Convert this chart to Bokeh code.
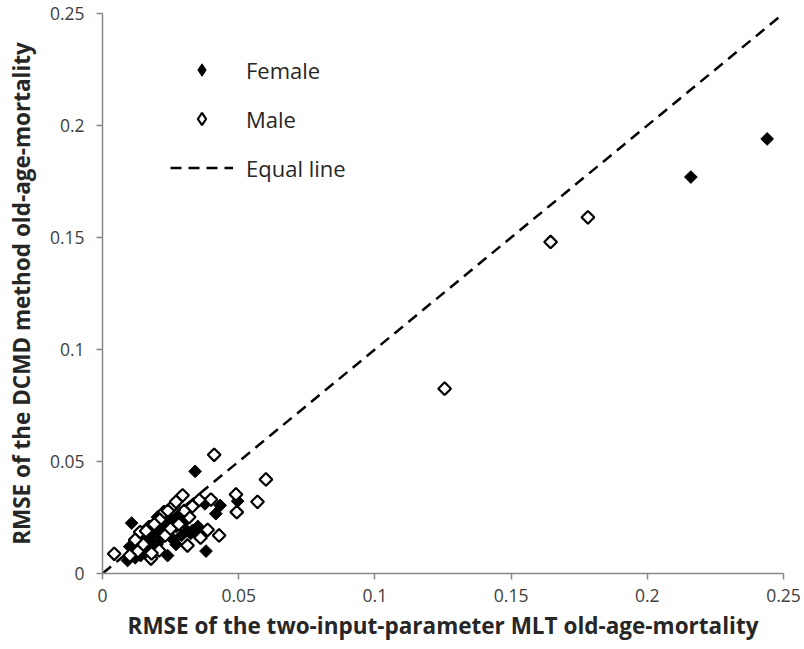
import numpy as np
from bokeh.plotting import figure
from bokeh.models import Legend, LegendItem, FixedTicker, Range1d
from bokeh.embed import file_html
from bokeh.resources import INLINE

# ---- data ----
female_x = [0.244, 0.216, 0.034, 0.0107, 0.038, 0.0432, 0.0496, 0.0376, 0.0416, 0.033,
            0.0324, 0.0202, 0.0239, 0.0092, 0.010, 0.012, 0.013, 0.014, 0.015, 0.016,
            0.017, 0.018, 0.019, 0.020, 0.021, 0.022, 0.023, 0.024, 0.025, 0.026,
            0.027, 0.028, 0.029, 0.030, 0.031, 0.012, 0.011, 0.016, 0.027, 0.035]
female_y = [0.194, 0.177, 0.0456, 0.0225, 0.0100, 0.0304, 0.0323, 0.0311, 0.0267, 0.0192,
            0.0179, 0.0252, 0.008, 0.0058, 0.012, 0.010, 0.014, 0.008, 0.012, 0.016,
            0.011, 0.014, 0.018, 0.013, 0.020, 0.016, 0.022, 0.018, 0.024, 0.015,
            0.021, 0.026, 0.017, 0.023, 0.019, 0.007, 0.0095, 0.009, 0.013, 0.021]

male_x = [0.1782, 0.1645, 0.1256, 0.041, 0.060, 0.049, 0.0569, 0.0493, 0.0398, 0.0355,
          0.0294, 0.0261, 0.0318, 0.0226, 0.0386, 0.0428, 0.0312, 0.036, 0.0178, 0.0138,
          0.0171, 0.0043, 0.0208, 0.024, 0.027, 0.021, 0.019, 0.016, 0.013, 0.010,
          0.015, 0.018, 0.023, 0.025, 0.028, 0.030, 0.033, 0.012]
male_y = [0.159, 0.148, 0.0825, 0.053, 0.042, 0.0353, 0.032, 0.0274, 0.033, 0.0328,
          0.0349, 0.0304, 0.0252, 0.0274, 0.0195, 0.017, 0.0125, 0.016, 0.0067, 0.0185,
          0.0207, 0.0088, 0.0103, 0.028, 0.032, 0.024, 0.022, 0.019, 0.010, 0.008,
          0.013, 0.009, 0.017, 0.020, 0.022, 0.028, 0.030, 0.015]

equal_x = [0.0, 0.25]
equal_y = [0.0, 0.25]

ticks = [0, 0.05, 0.1, 0.15, 0.2, 0.25]
tick_labels = ["0", "0.05", "0.1", "0.15", "0.2", "0.25"]

FONT = "Open Sans"

p = figure(width=804, height=649, output_backend="svg", toolbar_location=None,
           x_range=Range1d(0, 0.25), y_range=Range1d(0, 0.25),
           min_border_left=102, min_border_right=21, min_border_top=13, min_border_bottom=76)
p.outline_line_color = None
p.grid.visible = False
p.background_fill_color = "white"
p.border_fill_color = "white"

rf = p.scatter(female_x, female_y, marker="square", angle=np.pi / 4, size=9,
               fill_color="black", line_color="black", line_width=1)
rm = p.scatter(male_x, male_y, marker="square", angle=np.pi / 4, size=9,
               fill_color="white", line_color="black", line_width=2.2)
rl = p.line(equal_x, equal_y, line_color="black", line_width=2.5, line_dash="11 7")

# placeholder renderers (NaN, never drawn in the plot) used only for the legend symbols
lf = p.scatter(x=[np.nan], y=[np.nan], marker="diamond", fill_color="black",
               line_color="black", line_width=1)
lm = p.scatter(x=[np.nan], y=[np.nan], marker="diamond", fill_color="white",
               line_color="black", line_width=2.2)

for ax in (p.xaxis[0], p.yaxis[0]):
    ax.ticker = FixedTicker(ticks=ticks)
    ax.major_label_overrides = {t: l for t, l in zip(ticks, tick_labels)}
    ax.axis_line_color = "#888888"
    ax.axis_line_width = 1.5
    ax.major_tick_line_color = "#888888"
    ax.major_tick_line_width = 1.5
    ax.major_tick_out = 6
    ax.major_tick_in = 0
    ax.minor_tick_line_color = None
    ax.major_label_text_font = FONT
    ax.major_label_text_font_size = "17.5px"
    ax.major_label_text_color = "#404040"
    ax.axis_label_text_font = FONT
    ax.axis_label_text_font_size = "22.5px"
    ax.axis_label_text_font_style = "bold"
    ax.axis_label_text_color = "#262626"

p.xaxis[0].axis_label = "RMSE of the two-input-parameter MLT old-age-mortality"
p.yaxis[0].axis_label = "RMSE of the DCMD method old-age-mortality"
p.xaxis[0].major_label_standoff = 9
p.xaxis[0].axis_label_standoff = 5
p.yaxis[0].major_label_standoff = 12
p.yaxis[0].axis_label_standoff = 10

legend = Legend(items=[LegendItem(label="Female", renderers=[lf]),
                       LegendItem(label="Male", renderers=[lm]),
                       LegendItem(label="Equal line", renderers=[rl])],
                location=(68, 390), orientation="vertical")
legend.border_line_color = None
legend.background_fill_alpha = 0
legend.padding = 0
legend.margin = 0
legend.spacing = 18
legend.glyph_width = 63
legend.glyph_height = 31
legend.label_height = 31
legend.label_standoff = 13
legend.label_text_font = FONT
legend.label_text_font_size = "22px"
legend.label_text_color = "#262626"
p.add_layout(legend, "center")

open("out.html", "w").write(file_html(p, INLINE))
